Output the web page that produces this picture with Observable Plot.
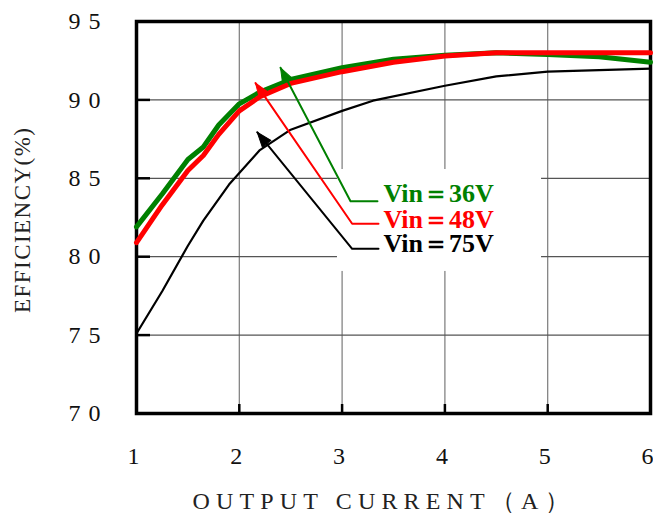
<!DOCTYPE html>
<html>
<head>
<meta charset="utf-8">
<script src="https://cdn.jsdelivr.net/npm/d3@7"></script>
<script src="https://cdn.jsdelivr.net/npm/@observablehq/plot@0.6"></script>
<style>
  html, body { margin: 0; padding: 0; background: #fff; }
  .chart g[aria-label="y-axis tick label"] text { letter-spacing: 8px; }
</style>
</head>
<body>
<div id="chart"></div>
<script>
// ---- data ----
const current36 = [1, 1.25, 1.5, 1.65, 1.8, 2, 2.2, 2.5, 3, 3.5, 4, 4.5, 5, 5.5, 6];
const eff36     = [81.9, 84.0, 86.2, 87.0, 88.4, 89.75, 90.5, 91.3, 92.05, 92.6, 92.85, 93.0, 92.9, 92.75, 92.4];
const current48 = [1, 1.25, 1.5, 1.65, 1.8, 2, 2.2, 2.5, 3, 3.5, 4, 4.5, 5, 5.5, 6];
const eff48     = [80.9, 83.3, 85.5, 86.45, 87.8, 89.3, 90.2, 91.05, 91.8, 92.4, 92.8, 93.0, 93.0, 93.0, 93.0];
const current75 = [1, 1.25, 1.5, 1.65, 1.9, 2.2, 2.5, 3, 3.3, 4, 4.5, 5, 6];
const eff75     = [75.1, 77.8, 80.7, 82.3, 84.6, 86.8, 88.1, 89.3, 89.95, 90.9, 91.5, 91.8, 92.0];

const seriesNames  = ["Vin＝36V", "Vin＝48V", "Vin＝75V"];
const seriesColors = ["#008000", "#ff0000", "#000000"];

const xTicks = [1, 2, 3, 4, 5, 6];
const yTicks = [70, 75, 80, 85, 90, 95];
const xTitle = "OUTPUT CURRENT（A）";
const yTitle = "EFFICIENCY(%)";

// annotation (leader line) anchors in data units
const tipX    = [2.401, 2.158, 2.174];
const tipY    = [92.05, 91.07, 87.94];
const cornerX = [3.082, 3.098, 3.098];
const cornerY = [83.54, 82.10, 80.50];
const endX    = [3.344, 3.354, 3.354];
const labelX  = [3.403, 3.403, 3.403];
const labelY  = [83.99, 82.39, 80.80];
const boxX    = [2.955, 4.94];
const boxY    = [79.06, 85.56];

// ---- build tables ----
const curves = [
  ...current36.map((x, i) => ({x, y: eff36[i], s: seriesNames[0]})),
  ...current48.map((x, i) => ({x, y: eff48[i], s: seriesNames[1]})),
  ...current75.map((x, i) => ({x, y: eff75[i], s: seriesNames[2]}))
];
const leaders = seriesNames.flatMap((s, i) => [
  {s, x: tipX[i], y: tipY[i]},
  {s, x: cornerX[i], y: cornerY[i]},
  {s, x: endX[i], y: cornerY[i]}
]);

const W = 653, H = 515, mL = 136, mR = 3, mT = 21, mB = 102;
const kx = (W - mL - mR) / 5, ky = (H - mT - mB) / 25;
const heads = seriesNames.map((s, i) => {
  const dx = (tipX[i] - cornerX[i]) * kx;
  const dy = -(tipY[i] - cornerY[i]) * ky;
  return {s, x: tipX[i], y: tipY[i], r: Math.atan2(dx, -dy) * 180 / Math.PI};
});
const labels = seriesNames.map((s, i) => ({s, x: labelX[i], y: labelY[i]}));

const color = {domain: seriesNames, range: seriesColors};

const triangle = {
  draw(ctx, l, r) {
    ctx.moveTo(0, -l);
    ctx.lineTo(-r, 0);
    ctx.lineTo(r, 0);
    ctx.closePath();
  }
};

const serif = "'Liberation Serif', 'Times New Roman', serif";

const chart = Plot.plot({
  className: "chart",
  width: W, height: H,
  marginLeft: mL, marginRight: mR, marginTop: mT, marginBottom: mB,
  style: {fontFamily: serif, background: "#fff", overflow: "visible"},
  x: {domain: [1, 6], axis: null},
  y: {domain: [70, 95], axis: null},
  color,
  marks: [
    Plot.gridX([2, 3, 4, 5], {stroke: "#7a7a7a", strokeOpacity: 1, strokeWidth: 1.2}),
    Plot.gridY([75, 80, 85, 90], {stroke: "#555", strokeOpacity: 1, strokeWidth: 1.2}),
    Plot.rect([0], {x1: () => boxX[0], x2: () => boxX[1], y1: () => boxY[0], y2: () => boxY[1], fill: "#fff"}),
    Plot.axisY(yTicks, {anchor: "left", tickSize: 14, dx: 14, text: null, label: null, stroke: "#000", strokeWidth: 2.5}),
    Plot.axisX([2, 3, 4, 5], {anchor: "bottom", tickSize: 9, dy: -9, text: null, label: null, stroke: "#000", strokeWidth: 2.5}),
    Plot.axisY(yTicks, {anchor: "left", tickSize: 0, tickPadding: 28, fontSize: 24, fontFamily: serif, fill: "#111", label: null}),
    Plot.axisX(xTicks, {anchor: "bottom", tickSize: 0, tickPadding: 33, dx: -3, fontSize: 24, fontFamily: serif, fill: "#111", label: null}),
    Plot.frame({stroke: "#000", strokeWidth: 3.5}),
    Plot.line(curves.filter(d => d.s !== seriesNames[2]), {x: "x", y: "y", z: "s", stroke: "s", strokeWidth: 5, strokeLinejoin: "round", strokeLinecap: "round"}),
    Plot.line(curves.filter(d => d.s === seriesNames[2]), {x: "x", y: "y", z: "s", stroke: "s", strokeWidth: 2.2}),
    Plot.line(leaders, {x: "x", y: "y", z: "s", stroke: "s", strokeWidth: 2}),
    Plot.vector(heads, {x: "x", y: "y", rotate: "r", length: 15, r: 5.5, anchor: "end",
      shape: triangle, fill: "s", stroke: "s", strokeWidth: 1}),
    Plot.text(labels, {x: "x", y: "y", text: "s", fill: "s", textAnchor: "start",
      lineAnchor: "middle", fontSize: 26, fontWeight: "bold", fontFamily: serif}),
    Plot.text([yTitle], {frameAnchor: "left", textAnchor: "middle", lineAnchor: "middle", rotate: -90,
      dx: -114, dy: 3, fontSize: 23, fontFamily: serif, fill: "#222"}),
    Plot.text([xTitle], {frameAnchor: "bottom", textAnchor: "middle", lineAnchor: "middle",
      dx: -13, dy: 88, fontSize: 24, fontFamily: serif, fill: "#222"})
  ]
});

// stretch the spaced-out axis titles to the reference's lengths
d3.select(chart).selectAll("text").each(function () {
  const t = this.textContent;
  if (t === yTitle) { this.setAttribute("textLength", 185); this.setAttribute("lengthAdjust", "spacing"); }
  if (t === xTitle) { this.setAttribute("textLength", 376); this.setAttribute("lengthAdjust", "spacing"); }
});
document.getElementById("chart").appendChild(chart);
</script>
</body>
</html>
